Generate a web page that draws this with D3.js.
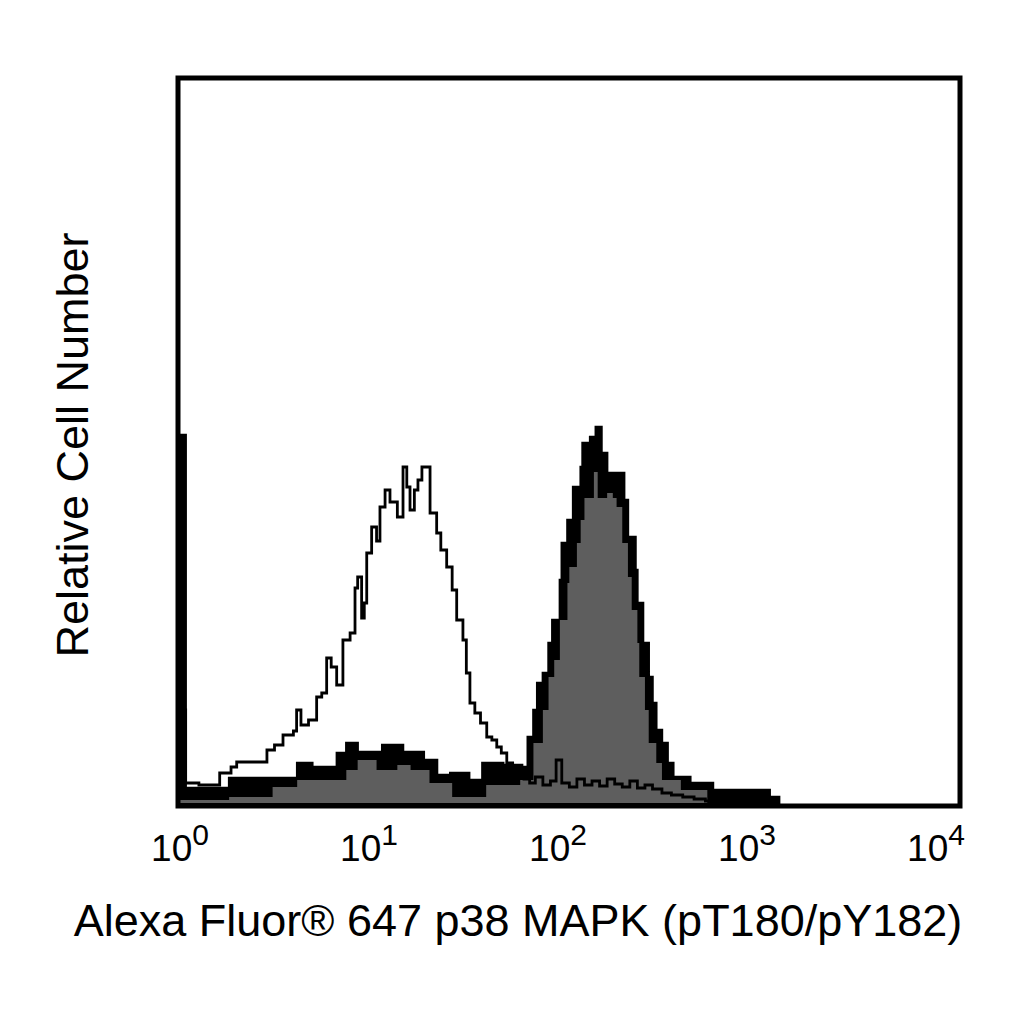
<!DOCTYPE html>
<html>
<head>
<meta charset="utf-8">
<script src="https://cdn.jsdelivr.net/npm/d3@7"></script>
<style>
  html, body { margin: 0; padding: 0; background: #ffffff; }
  svg { display: block; }
  text { font-family: "Liberation Sans", Arial, Helvetica, sans-serif; fill: #000; }
</style>
</head>
<body>
<svg id="chart" width="1024" height="1024"></svg>
<script>
// ---- data: [log10(intensity) at bin start, relative count] ----
const stimulated = [
  [0, 368], [0.03, 15], [0.26, 25], [0.62, 40], [0.70, 36], [0.83, 50], [0.88, 60],
  [0.94, 51], [1.07, 58], [1.18, 51], [1.29, 43], [1.36, 28], [1.43, 30], [1.53, 23],
  [1.60, 40], [1.71, 38], [1.81, 36], [1.84, 66], [1.87, 93], [1.89, 120], [1.92, 130],
  [1.95, 160], [1.97, 183], [2.01, 223], [2.02, 260], [2.05, 283], [2.08, 316], [2.12, 336],
  [2.13, 360], [2.17, 366], [2.20, 376], [2.23, 350], [2.26, 330], [2.35, 303], [2.37, 266],
  [2.41, 233], [2.42, 200], [2.45, 160], [2.48, 126], [2.50, 100], [2.52, 73], [2.55, 60],
  [2.58, 40], [2.61, 26], [2.70, 20], [2.82, 13], [3.12, 6], [3.17, 0]
];
const grayFilled = [
  [0, 3], [0.26, 6], [0.49, 16], [0.62, 23], [0.88, 33], [0.94, 43], [1.04, 33], [1.15, 38],
  [1.22, 33], [1.32, 20], [1.44, 6], [1.62, 18], [1.80, 23], [1.87, 60], [1.92, 93],
  [1.95, 126], [1.98, 143], [2.01, 183], [2.05, 220], [2.06, 236], [2.10, 260], [2.12, 283],
  [2.14, 305], [2.19, 331], [2.21, 305], [2.26, 310], [2.29, 305], [2.31, 296], [2.34, 260],
  [2.37, 226], [2.39, 193], [2.42, 160], [2.43, 126], [2.46, 93], [2.48, 60], [2.52, 40],
  [2.55, 23], [2.65, 13], [2.79, 0]
];
const unstimulated = [
  [0, 93], [0.03, 20], [0.10, 18], [0.21, 30], [0.27, 36], [0.30, 41], [0.46, 53], [0.50, 58],
  [0.545, 68], [0.60, 72], [0.617, 93], [0.64, 78], [0.68, 83], [0.723, 106], [0.75, 110],
  [0.776, 145], [0.80, 136], [0.829, 118], [0.862, 163], [0.90, 170], [0.926, 215], [0.94, 226],
  [0.961, 185], [0.975, 200], [0.988, 250], [1.014, 276], [1.04, 262], [1.058, 296], [1.085, 313],
  [1.111, 301], [1.15, 286], [1.18, 336], [1.20, 316], [1.217, 293], [1.24, 313], [1.259, 323],
  [1.28, 336], [1.323, 290], [1.358, 270], [1.38, 253], [1.411, 236], [1.44, 213], [1.464, 183],
  [1.497, 163], [1.515, 130], [1.534, 100], [1.56, 90], [1.59, 80], [1.623, 66], [1.65, 63],
  [1.676, 56], [1.70, 50], [1.729, 40], [1.76, 36], [1.80, 30], [1.82, 24], [1.85, 20],
  [1.88, 26], [1.92, 18], [1.96, 22], [1.99, 43], [2.02, 20], [2.06, 16], [2.10, 24],
  [2.14, 18], [2.18, 22], [2.22, 17], [2.26, 24], [2.30, 19], [2.34, 16], [2.38, 22],
  [2.42, 15], [2.46, 18], [2.50, 14], [2.55, 10], [2.60, 8], [2.66, 6], [2.72, 4],
  [2.78, 2], [2.85, 0]
];
const tickValues = [1, 10, 100, 1000, 10000];
const tickExponents = ["0", "1", "2", "3", "4"];
const xTitle = "Alexa Fluor\u00AE 647 p38 MAPK (pT180/pY182)";
const yTitle = "Relative Cell Number";

// ---- layout ----
const svg = d3.select("#chart");
const frame = { left: 178, top: 78, right: 960, bottom: 806 };

const x = d3.scaleLog().domain([1, 1e4]).range([180, 936]);
const y = d3.scaleLinear().domain([0, 722]).range([803, 81]);

svg.append("defs").append("clipPath").attr("id", "plotclip")
  .append("rect")
  .attr("x", frame.left).attr("y", frame.top)
  .attr("width", frame.right - frame.left).attr("height", frame.bottom - frame.top);

const g = svg.append("g").attr("clip-path", "url(#plotclip)");

const area = d3.area()
  .x(d => x(Math.pow(10, d[0])))
  .y0(y(0))
  .y1(d => y(d[1]))
  .curve(d3.curveStepAfter);
const line = d3.line()
  .x(d => x(Math.pow(10, d[0])))
  .y(d => y(d[1]))
  .curve(d3.curveStepAfter);

g.append("path").datum(stimulated)
  .attr("d", area)
  .attr("fill", "#000")
  .attr("stroke", "#000").attr("stroke-width", 2.5);

g.append("path").datum(grayFilled)
  .attr("d", area)
  .attr("fill", "#5e5e5e");

g.append("path").datum(unstimulated)
  .attr("d", line)
  .attr("fill", "none")
  .attr("stroke", "#000").attr("stroke-width", 2.8);

// frame
svg.append("rect")
  .attr("x", frame.left).attr("y", frame.top)
  .attr("width", frame.right - frame.left).attr("height", frame.bottom - frame.top)
  .attr("fill", "none").attr("stroke", "#000").attr("stroke-width", 5);

// tick labels
const labels = svg.append("g").selectAll("text").data(tickValues).join("text")
  .attr("x", d => x(d))
  .attr("y", 861)
  .attr("text-anchor", "middle")
  .style("font-size", "37px");
labels.append("tspan").text("10");
labels.append("tspan")
  .attr("dy", -16)
  .style("font-size", "30px")
  .text((d, i) => tickExponents[i]);

// axis titles
svg.append("text")
  .attr("x", 518).attr("y", 936)
  .attr("text-anchor", "middle")
  .style("font-size", "45px")
  .text(xTitle);

svg.append("text")
  .attr("transform", "translate(88,445) rotate(-90)")
  .attr("text-anchor", "middle")
  .style("font-size", "45px")
  .text(yTitle);
</script>
</body>
</html>
